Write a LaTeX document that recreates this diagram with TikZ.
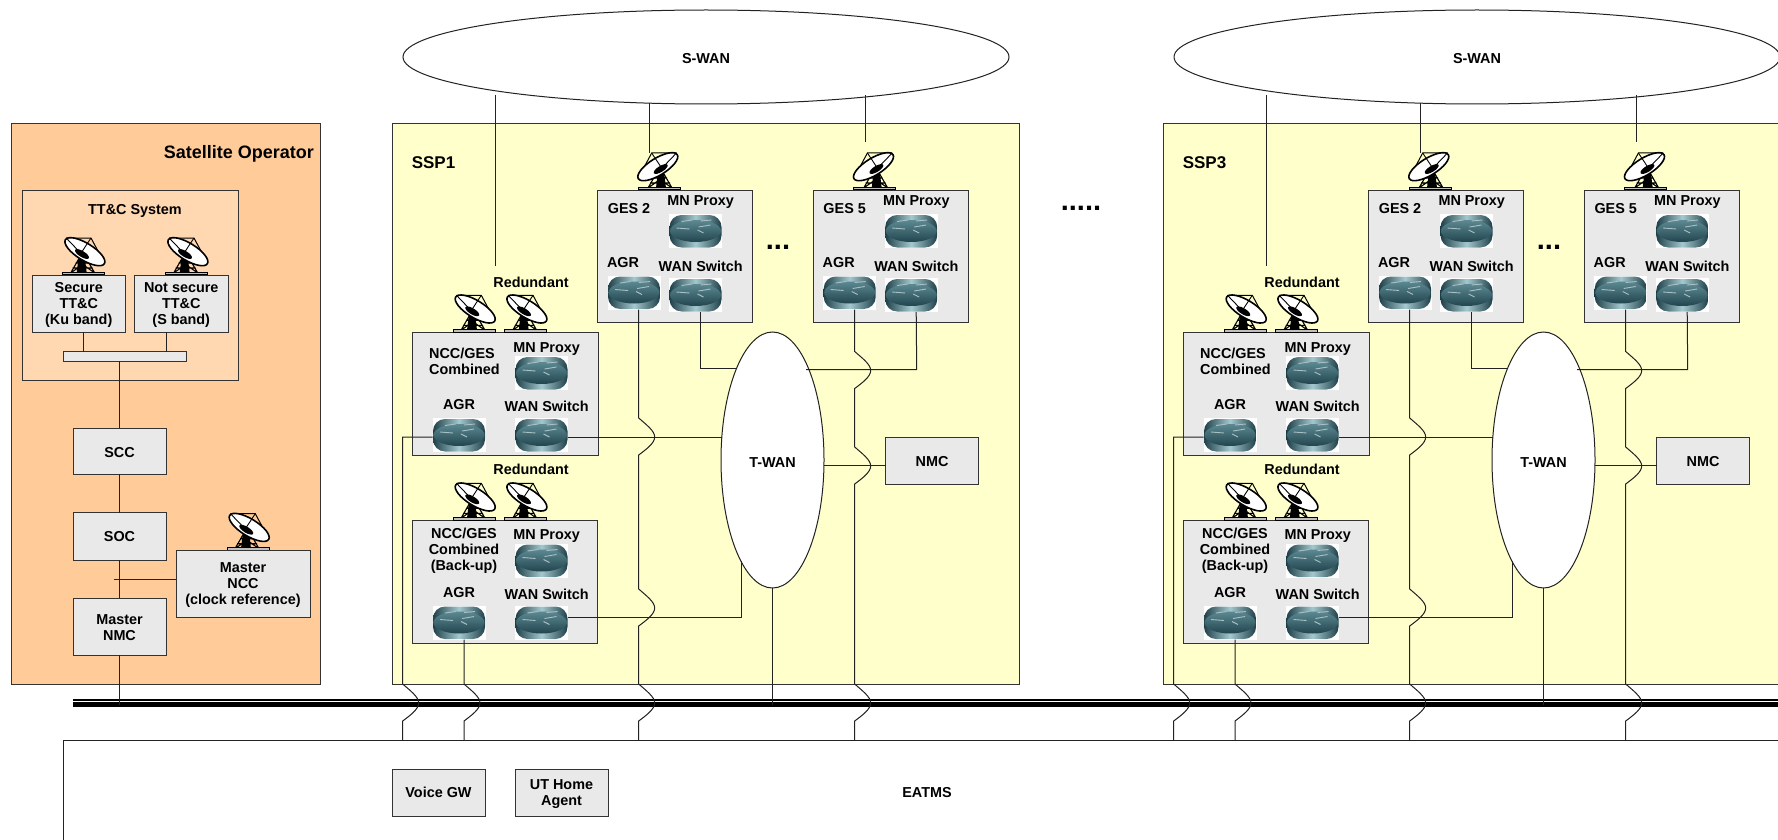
\documentclass[tikz,border=0pt]{standalone}
\usepackage{fontspec}
\setmainfont{Liberation Sans}
\usetikzlibrary{shapes.geometric,calc}
\definecolor{opfill}{HTML}{FFCC99}
\definecolor{ttfill}{HTML}{FFD7B0}
\definecolor{sspfill}{HTML}{FFFFCC}
\definecolor{boxfill}{HTML}{E9E9E9}
\definecolor{linec}{HTML}{222222}
\definecolor{framec}{HTML}{333333}
\definecolor{rdark}{HTML}{1F4049}
\definecolor{rmid}{HTML}{3F747F}
\definecolor{rlight}{HTML}{A4C8CE}
\newcommand{\sz}{\fontsize{14.4}{16}\selectfont\bfseries}
\tikzset{
  frame/.style={rectangle,draw=framec,line width=1pt,inner sep=0pt,outer sep=0pt},
  graybox/.style={frame,fill=boxfill,font=\sz,align=center,text=black},
  lab/.style={font=\sz,inner sep=0pt,align=center,text=black},
  conn/.style={draw=linec,line width=1pt},
  cloud/.style={ellipse,draw=linec,line width=1pt,fill=white,inner sep=0pt,outer sep=0pt,font=\sz,text=black},
  router/.style={rectangle,inner sep=0pt,outer sep=0pt,minimum width=53,minimum height=34,fill=white,
    path picture={
      \begin{scope}[shift={(path picture bounding box.center)}]
        \shade[left color=rdark,right color=rdark,middle color=rlight,rounded corners=12pt] (-26,-16) rectangle (26,16.5);
        \shade[top color=rmid!85!white,bottom color=rdark!90!rmid,shift={(0,-4)}] (0,0) ellipse [x radius=25.5,y radius=11];
        \draw[white!55!rmid,line width=.9pt] (-14,-9.5) -- (-3,-11) (3,-4) -- (15,-6) (-19,-3) -- (-6,-2) (5,-10) -- (16,-11) (2,-1) -- (8,2);
      \end{scope}
    }},
  dish/.pic={
    \fill[black] (-5,-19) -- (1,-19) -- (3,-2) -- (-7,-2) -- cycle;
    \draw[black,line width=1.1pt] (-13,-2) -- (-5,-16) (11,-2) -- (3,-16) (-11,-7) -- (9,-7) (-8,-12) -- (6,-12) (-13,-2) -- (1,-12) (11,-2) -- (-3,-12);
    \draw[black,fill=black!25,line width=.9pt] (-21,-3) rectangle (21,-.2);
    \draw[black,line width=1pt] (-17.5,-37) -- (7.3,-37) -- (20.7,-12);
    \draw[black,fill=white,line width=1.6pt,shift={(1.2,-23.3)},rotate=-31.6] (0,0) ellipse [x radius=22.9,y radius=8.5];
    \draw[black,line width=.9pt] (7.3,-37) -- (-3.3,-21) (-17.5,-37) -- (-5,-24);
    \fill[black,shift={(-1.7,-21)},rotate=-31.6] (0,0) ellipse [x radius=8,y radius=3];
  }
}
\newcommand{\hop}[2]{-- (#1,#2) .. controls (#1+8,#2+7) and (#1+16,#2+13) .. (#1+16,#2+19) .. controls (#1+16,#2+25) and (#1+8,#2+31) .. (#1,#2+37)}
% \bx{name}{x1}{y1}{x2}{y2}{style}{text}
\newcommand{\bx}[7]{\node[#6,minimum width={#4-#2},minimum height={#5-#3}] (#1) at ({(#2+#4)/2},{(#3+#5)/2}) {#7};}
\newcommand{\dn}{\rule{0pt}{12.6pt}}
% one grey station with MN Proxy, AGR and WAN Switch
\newcommand{\gesunit}[3]{% prefix, x-offset, title
  \begin{scope}[xshift=#2]
    \bx{#1box}{597.7}{190.3}{752.3}{322.7}{frame,fill=boxfill}{}
    \pic[xscale=-1] at (659,190) {dish};
    \node[lab] (#1title) at (629,209) {#3};
    \node[lab] (#1mnl) at (700.7,202) {MN Proxy};
    \node[lab] (#1agrl) at (623,263) {AGR};
    \node[lab] (#1wanl) at (700.7,266.5) {WAN Switch};
    \node[router] (#1mn) at (695.5,231) {};
    \node[router] (#1agr) at (634,292.5) {};
    \node[router] (#1wan) at (695.5,295) {};
  \end{scope}}
\newcommand{\sspunit}[2]{%
  \bx{#1ssp}{392}{123.7}{1019.5}{684}{frame,fill=sspfill}{}
  \node[lab,font=\fontsize{17}{19}\selectfont\bfseries] (#1title) at (433.5,162.5) {#2};
  \node[cloud,minimum width=606,minimum height=94] (#1swan) at (706,57) {\dn S-WAN};
  \gesunit{#1g}{0}{GES 2}
  \gesunit{#1h}{215.7}{GES 5}
  \node[lab,font=\fontsize{29}{30}\selectfont\bfseries,anchor=base] (#1dots) at (778,249.5) {...};
  % NCC/GES
  \bx{#1nbox}{412.7}{332.3}{598}{455.7}{frame,fill=boxfill}{}
  \pic at (474,332.3) {dish};
  \pic at (525.7,332.3) {dish};
  \node[lab] (#1nred) at (531,282) {Redundant};
  \node[lab,align=left,anchor=west] (#1ntitle) at (429,361) {NCC/GES\\Combined};
  \node[lab] (#1nmnl) at (546.7,349.5) {MN Proxy};
  \node[lab] (#1nagrl) at (459,405) {AGR};
  \node[lab] (#1nwanl) at (546.7,406.5) {WAN Switch};
  \node[router] (#1nmn) at (541.5,373) {};
  \node[router] (#1nagr) at (459,435) {};
  \node[router] (#1nwan) at (541.5,435) {};
  % back-up
  \bx{#1bbox}{412.7}{520.3}{597.7}{643.3}{frame,fill=boxfill}{}
  \pic at (474,520.3) {dish};
  \pic at (525.7,520.3) {dish};
  \node[lab] (#1bred) at (531,469) {Redundant};
  \node[lab] (#1btitle) at (464,551) {NCC/GES\\Combined\\(Back-up)};
  \node[lab] (#1bmnl) at (546.7,536.5) {MN Proxy};
  \node[lab] (#1bagrl) at (459,593) {AGR};
  \node[lab] (#1bwanl) at (546.7,594.5) {WAN Switch};
  \node[router] (#1bmn) at (541.5,560.5) {};
  \node[router] (#1bagr) at (459,622.5) {};
  \node[router] (#1bwan) at (541.5,622.5) {};
  % T-WAN, NMC
  \node[cloud,minimum width=103,minimum height=256] (#1twan) at (772.5,460) {\rule{0pt}{15pt}T-WAN};
  \bx{#1nmc}{885.6}{437}{978.5}{484}{graybox}{\dn NMC}
  % S-WAN links
  \coordinate (#1nant) at (495.4,266);
  \coordinate (#1gant) at (649.3,152.7);
  \coordinate (#1hant) at (865.7,142);
  \draw[conn] (#1nant) -- (495.4,95);
  \draw[conn] (#1gant) -- (649.3,103);
  \draw[conn] (#1hant) -- (865.7,95);
  % links to EATMS with hops
  \draw[conn] ([yshift=-2pt]#1nagr.west) -- (402.7,437) \hop{402.7}{684} -- (402.7,0 |- eatms.north);
  \draw[conn] ([xshift=5pt]#1bagr.south) -- (464,640) \hop{464}{684} -- (464,0 |- eatms.north);
  \draw[conn] ([xshift=4.7pt]#1gagr.south) \hop{638.7}{418} \hop{638.7}{589} \hop{638.7}{684} -- (638.7,0 |- eatms.north);
  \draw[conn] ([xshift=5pt]#1hagr.south) \hop{854.7}{351.5} \hop{854.7}{447} \hop{854.7}{684} -- (854.7,0 |- eatms.north);
  % links to T-WAN
  \draw[conn] ([xshift=4.5pt]#1gwan.south) -- (700,368.7) -- (736.5,368.7);
  \draw[conn] ([xshift=5pt]#1hwan.south) -- (916.7,369.6) -- (806,369.6);
  \draw[conn] ([yshift=-2pt]#1nwan.east) -- (721.7,437);
  \draw[conn] ([yshift=5.5pt]#1bwan.east) -- (741,617) -- (741,560.7);
  \draw[conn] (#1twan.south) -- (#1twan.south |- bus.center);
  \draw[conn] ([yshift=-5pt]#1nmc.west) -- (824,465.5);
}
\begin{document}
\begin{tikzpicture}[x=1pt,y=-1pt]
\useasboundingbox (0,0) rectangle (1778,840);
\clip (0,0) rectangle (1778,840);
\fill[white] (0,0) rectangle (1778,840);
% bus and EATMS
\bx{opbox}{11.5}{123.5}{320}{684}{frame,fill=opfill}{}
\bx{bus}{73}{702.3}{1800}{706.7}{rectangle,fill=black,inner sep=0pt,outer sep=0pt}{}
\bx{bustop}{73}{699.4}{1800}{700.8}{rectangle,fill=black,inner sep=0pt,outer sep=0pt}{}
\bx{eatms}{63}{740.7}{1900}{900}{rectangle,draw=linec,line width=1pt,fill=white,inner sep=0pt,outer sep=0pt}{}
\node[lab] (eatmsl) at (927,793) {EATMS};
\bx{voicegw}{392}{769}{485}{816}{graybox}{Voice GW}
\bx{uthome}{515}{769}{608}{816}{graybox}{\dn UT Home\\Agent}
% Satellite operator
\node[lab,anchor=east,font=\fontsize{18}{20}\selectfont\bfseries] (optitle) at (314,153.5) {Satellite Operator};
\bx{ttbox}{22}{190}{238}{380}{frame,fill=ttfill}{}
\node[lab] (tttitle) at (135,211) {TT\&C System};
\pic at (83.7,275) {dish};
\pic at (186.7,275) {dish};
\bx{secure}{32}{275}{125.5}{332}{graybox}{\dn Secure\\TT\&C\\(Ku band)}
\bx{notsecure}{134.5}{275}{228}{332}{graybox}{\dn Not secure\\TT\&C\\(S band)}
\bx{ttbar}{63}{351.7}{186.5}{361}{frame,fill=boxfill}{}
\draw[conn] (83.7,0 |- secure.south) -- (83.7,0 |- ttbar.north);
\draw[conn] (166,0 |- notsecure.south) -- (166,0 |- ttbar.north);
\bx{scc}{73}{428}{166}{474}{graybox}{\dn SCC}
\bx{soc}{73}{512.7}{166}{560}{graybox}{SOC}
\bx{mnmc}{73}{598}{166}{655}{graybox}{\dn Master\\NMC}
\pic at (248,550.7) {dish};
\bx{mncc}{176}{550.7}{310}{617}{graybox}{\dn Master\\NCC\\(clock reference)}
\draw[conn] (ttbar.south -| scc.north) -- (scc.north);
\draw[conn] (scc.south) -- (soc.north);
\draw[conn] (soc.south) -- (mnmc.north);
\draw[conn] (mnmc.south) -- (mnmc.south |- bus.center);
\coordinate (mtap) at (114,579);
\draw[conn] (mncc.west |- mtap) -- (mtap);
% SSP groups
\sspunit{a}{SSP1}
\node[lab,font=\fontsize{29}{30}\selectfont\bfseries,anchor=base] (gapdots) at (1081,211) {.....};
\begin{scope}[xshift=771]
\sspunit{c}{SSP3}
\end{scope}
\end{tikzpicture}
\end{document}
